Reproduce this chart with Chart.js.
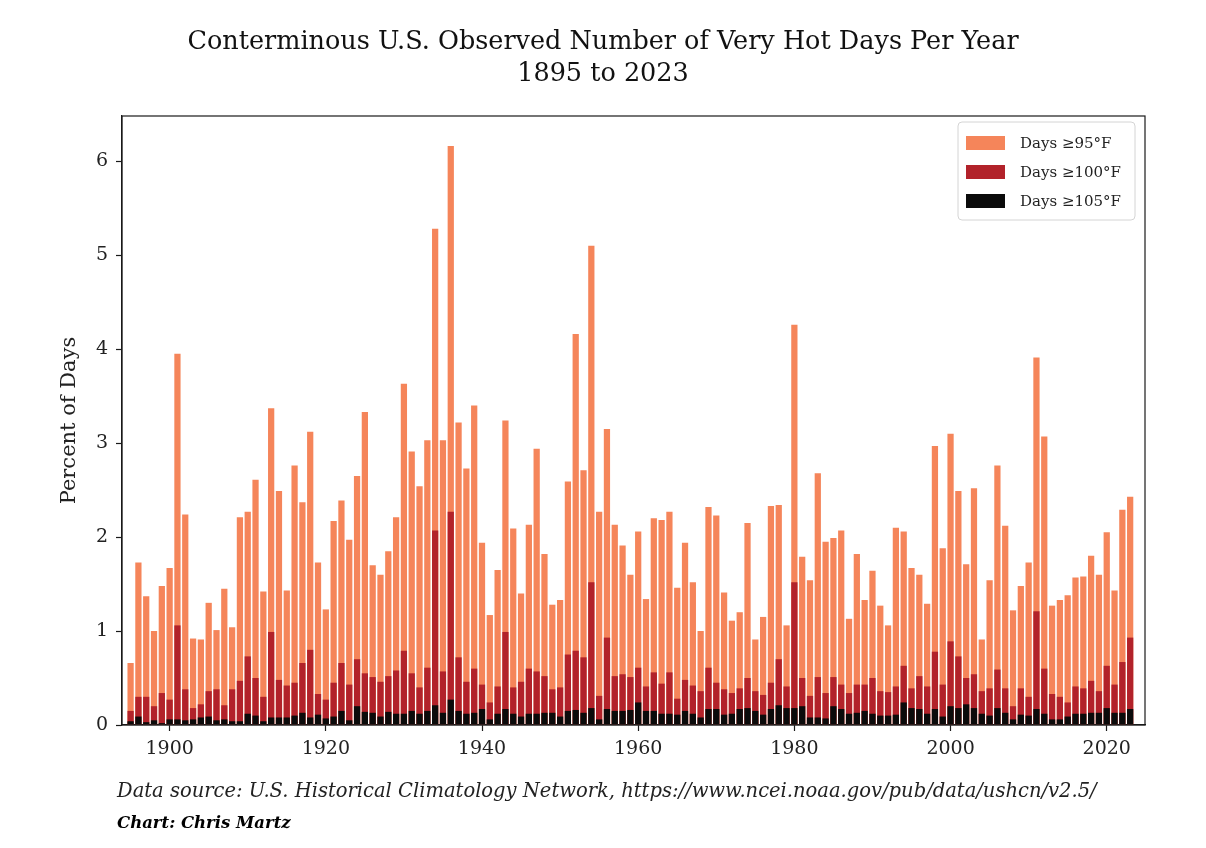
<!DOCTYPE html>
<html>
<head>
<meta charset="utf-8">
<script src="https://cdn.jsdelivr.net/npm/chart.js@4/dist/chart.umd.min.js"></script>
<style>
  body { margin: 0; background: #fff; }
  #wrap { position: relative; width: 1206px; height: 848px; }
  .title { position: absolute; left: 0; width: 1206px; text-align: center; font-family: "DejaVu Serif", serif; font-size: 25.5px; color: #111; }
  .note { position: absolute; left: 117px; font-family: "DejaVu Serif", serif; font-style: italic; font-size: 19.5px; color: #222; white-space: nowrap; }
</style>
</head>
<body>
<div id="wrap">
  <canvas id="grafico"></canvas>
  <div class="title" style="top:25px">Conterminous U.S. Observed Number of Very Hot Days Per Year</div>
  <div class="title" style="top:57px">1895 to 2023</div>
  <div class="note" style="top:779px">Data source: U.S. Historical Climatology Network, https://www.ncei.noaa.gov/pub/data/ushcn/v2.5/</div>
  <div class="note" style="top:813px; font-size:16.5px; font-weight:bold; color:#000">Chart: Chris Martz</div>
</div>
<script>
var years = [
  1895, 1896, 1897, 1898, 1899, 1900, 1901, 1902, 1903, 1904,
  1905, 1906, 1907, 1908, 1909, 1910, 1911, 1912, 1913, 1914,
  1915, 1916, 1917, 1918, 1919, 1920, 1921, 1922, 1923, 1924,
  1925, 1926, 1927, 1928, 1929, 1930, 1931, 1932, 1933, 1934,
  1935, 1936, 1937, 1938, 1939, 1940, 1941, 1942, 1943, 1944,
  1945, 1946, 1947, 1948, 1949, 1950, 1951, 1952, 1953, 1954,
  1955, 1956, 1957, 1958, 1959, 1960, 1961, 1962, 1963, 1964,
  1965, 1966, 1967, 1968, 1969, 1970, 1971, 1972, 1973, 1974,
  1975, 1976, 1977, 1978, 1979, 1980, 1981, 1982, 1983, 1984,
  1985, 1986, 1987, 1988, 1989, 1990, 1991, 1992, 1993, 1994,
  1995, 1996, 1997, 1998, 1999, 2000, 2001, 2002, 2003, 2004,
  2005, 2006, 2007, 2008, 2009, 2010, 2011, 2012, 2013, 2014,
  2015, 2016, 2017, 2018, 2019, 2020, 2021, 2022, 2023
];

// percent of days >= 95F
var hot95 = [
  0.66, 1.73, 1.37, 1.00, 1.48, 1.67, 3.95, 2.24, 0.92, 0.91,
  1.30, 1.01, 1.45, 1.04, 2.21, 2.27, 2.61, 1.42, 3.37, 2.49,
  1.43, 2.76, 2.37, 3.12, 1.73, 1.23, 2.17, 2.39, 1.97, 2.65,
  3.33, 1.70, 1.60, 1.85, 2.21, 3.63, 2.91, 2.54, 3.03, 5.28,
  3.03, 6.16, 3.22, 2.73, 3.40, 1.94, 1.17, 1.65, 3.24, 2.09,
  1.40, 2.13, 2.94, 1.82, 1.28, 1.33, 2.59, 4.16, 2.71, 5.10,
  2.27, 3.15, 2.13, 1.91, 1.60, 2.06, 1.34, 2.20, 2.18, 2.27,
  1.46, 1.94, 1.52, 1.00, 2.32, 2.23, 1.41, 1.11, 1.20, 2.15,
  0.91, 1.15, 2.33, 2.34, 1.06, 4.26, 1.79, 1.54, 2.68, 1.95,
  1.99, 2.07, 1.13, 1.82, 1.33, 1.64, 1.27, 1.06, 2.10, 2.06,
  1.67, 1.60, 1.29, 2.97, 1.88, 3.10, 2.49, 1.71, 2.52, 0.91,
  1.54, 2.76, 2.12, 1.22, 1.48, 1.73, 3.91, 3.07, 1.27, 1.33,
  1.38, 1.57, 1.58, 1.80, 1.60, 2.05, 1.43, 2.29, 2.43
];

// percent of days >= 100F
var hot100 = [
  0.15, 0.30, 0.30, 0.20, 0.34, 0.27, 1.06, 0.38, 0.18, 0.22,
  0.36, 0.38, 0.21, 0.38, 0.47, 0.73, 0.50, 0.30, 0.99, 0.48,
  0.42, 0.45, 0.66, 0.80, 0.33, 0.27, 0.45, 0.66, 0.43, 0.70,
  0.55, 0.51, 0.46, 0.52, 0.58, 0.79, 0.55, 0.40, 0.61, 2.07,
  0.57, 2.27, 0.72, 0.46, 0.60, 0.43, 0.24, 0.41, 0.99, 0.40,
  0.46, 0.60, 0.57, 0.52, 0.38, 0.40, 0.75, 0.79, 0.72, 1.52,
  0.31, 0.93, 0.52, 0.54, 0.51, 0.61, 0.41, 0.56, 0.44, 0.56,
  0.28, 0.48, 0.42, 0.36, 0.61, 0.45, 0.38, 0.34, 0.39, 0.50,
  0.36, 0.32, 0.45, 0.70, 0.41, 1.52, 0.50, 0.31, 0.51, 0.34,
  0.51, 0.43, 0.34, 0.43, 0.43, 0.50, 0.36, 0.35, 0.41, 0.63,
  0.39, 0.52, 0.41, 0.78, 0.43, 0.89, 0.73, 0.50, 0.54, 0.36,
  0.39, 0.59, 0.39, 0.20, 0.39, 0.30, 1.21, 0.60, 0.33, 0.30,
  0.24, 0.41, 0.39, 0.47, 0.36, 0.63, 0.43, 0.67, 0.93
];

// percent of days >= 105F
var hot105 = [
  0.04, 0.09, 0.03, 0.05, 0.02, 0.06, 0.06, 0.05, 0.06, 0.08,
  0.09, 0.05, 0.06, 0.04, 0.04, 0.12, 0.10, 0.04, 0.08, 0.08,
  0.08, 0.10, 0.13, 0.08, 0.11, 0.07, 0.09, 0.15, 0.05, 0.20,
  0.14, 0.13, 0.09, 0.14, 0.12, 0.12, 0.15, 0.12, 0.15, 0.21,
  0.13, 0.27, 0.15, 0.12, 0.13, 0.17, 0.06, 0.12, 0.17, 0.12,
  0.09, 0.12, 0.12, 0.13, 0.13, 0.09, 0.15, 0.16, 0.13, 0.18,
  0.06, 0.17, 0.15, 0.15, 0.16, 0.24, 0.15, 0.15, 0.12, 0.12,
  0.11, 0.15, 0.12, 0.08, 0.17, 0.17, 0.11, 0.12, 0.17, 0.18,
  0.15, 0.11, 0.17, 0.21, 0.18, 0.18, 0.20, 0.08, 0.08, 0.07,
  0.20, 0.17, 0.12, 0.13, 0.15, 0.12, 0.10, 0.10, 0.11, 0.24,
  0.18, 0.17, 0.12, 0.17, 0.09, 0.20, 0.18, 0.22, 0.18, 0.12,
  0.10, 0.18, 0.13, 0.06, 0.11, 0.10, 0.17, 0.12, 0.06, 0.06,
  0.09, 0.12, 0.12, 0.13, 0.13, 0.18, 0.13, 0.13, 0.17
];

var seriesNames = ["Days \u226595\u00b0F", "Days \u2265100\u00b0F", "Days \u2265105\u00b0F"];
var seriesColors = ["#F5855A", "#B2222A", "#0B0B0B"];
var xTicks = [1900, 1920, 1940, 1960, 1980, 2000, 2020];
var yTicks = [0, 1, 2, 3, 4, 5, 6];

var FONT = "DejaVu Serif";

function pts(vals) {
  return years.map(function (yr, i) { return { x: yr, y: vals[i] }; });
}

// box around the plot + legend in the top right corner
var framePlugin = {
  id: 'frame',
  afterDatasetsDraw: function (chart) {
    var c = chart.ctx, a = chart.chartArea;
    c.save();
    c.strokeStyle = '#1a1a1a';
    c.lineWidth = 1.2;
    c.strokeRect(a.left, a.top, a.right - a.left, a.bottom - a.top);

    // legend
    var bx = 958, by = 122, bw = 177, bh = 98, r = 4;
    c.beginPath();
    c.moveTo(bx + r, by);
    c.arcTo(bx + bw, by, bx + bw, by + bh, r);
    c.arcTo(bx + bw, by + bh, bx, by + bh, r);
    c.arcTo(bx, by + bh, bx, by, r);
    c.arcTo(bx, by, bx + bw, by, r);
    c.closePath();
    c.fillStyle = 'rgba(255,255,255,0.85)';
    c.fill();
    c.strokeStyle = '#d4d4d4';
    c.lineWidth = 1;
    c.stroke();
    c.font = '15px "' + FONT + '"';
    c.textBaseline = 'middle';
    c.textAlign = 'left';
    for (var i = 0; i < seriesNames.length; i++) {
      var yy = 143 + i * 29;
      c.fillStyle = seriesColors[i];
      c.fillRect(966, yy - 7, 39, 14);
      c.fillStyle = '#222';
      c.fillText(seriesNames[i], 1020, yy + 1);
    }
    c.restore();
  }
};

var ctx = document.getElementById("grafico");

var barras = new Chart(ctx, {
  type: 'bar',
  data: {
    datasets: [{
      label: seriesNames[0],
      data: pts(hot95),
      backgroundColor: seriesColors[0],
      order: 3
    }, {
      label: seriesNames[1],
      data: pts(hot100),
      backgroundColor: seriesColors[1],
      order: 2
    }, {
      label: seriesNames[2],
      data: pts(hot105),
      backgroundColor: seriesColors[2],
      order: 1
    }]
  },
  options: {
    responsive: true,
    maintainAspectRatio: false,
    animation: false,
    grouped: false,
    barPercentage: 0.8,
    categoryPercentage: 1,
    layout: { padding: { left: 50, top: 116, right: 61, bottom: 0 } },
    plugins: {
      legend: { display: false },
      tooltip: { enabled: false }
    },
    scales: {
      x: {
        type: 'linear',
        min: 1893.9,
        max: 2024.9,
        offset: false,
        afterFit: function (s) { s.height = 123; },
        afterBuildTicks: function (s) { s.ticks = xTicks.map(function (v) { return { value: v }; }); },
        grid: { offset: false, drawOnChartArea: false, drawTicks: true, tickLength: 6, color: '#1a1a1a', tickWidth: 1.2 },
        border: { display: true, color: '#1a1a1a', width: 1.2 },
        ticks: {
          autoSkip: false, maxRotation: 0, padding: 7, color: '#222',
          font: { family: FONT, size: 19 },
          callback: function (v) { return String(v); }
        }
      },
      y: {
        min: 0,
        max: 6.48,
        afterFit: function (s) { s.width = 72; },
        afterBuildTicks: function (s) { s.ticks = yTicks.map(function (v) { return { value: v }; }); },
        grid: { drawOnChartArea: false, drawTicks: true, tickLength: 6, color: '#1a1a1a', tickWidth: 1.2 },
        border: { display: true, color: '#1a1a1a', width: 1.2 },
        ticks: {
          padding: 8, color: '#222',
          font: { family: FONT, size: 19 },
          callback: function (v) { return String(v); }
        },
        title: {
          display: true, text: 'Percent of Days', color: '#222',
          font: { family: FONT, size: 21 },
          padding: { top: 7, bottom: 0 }
        }
      }
    }
  },
  plugins: [framePlugin]
});
</script>
</body>
</html>
